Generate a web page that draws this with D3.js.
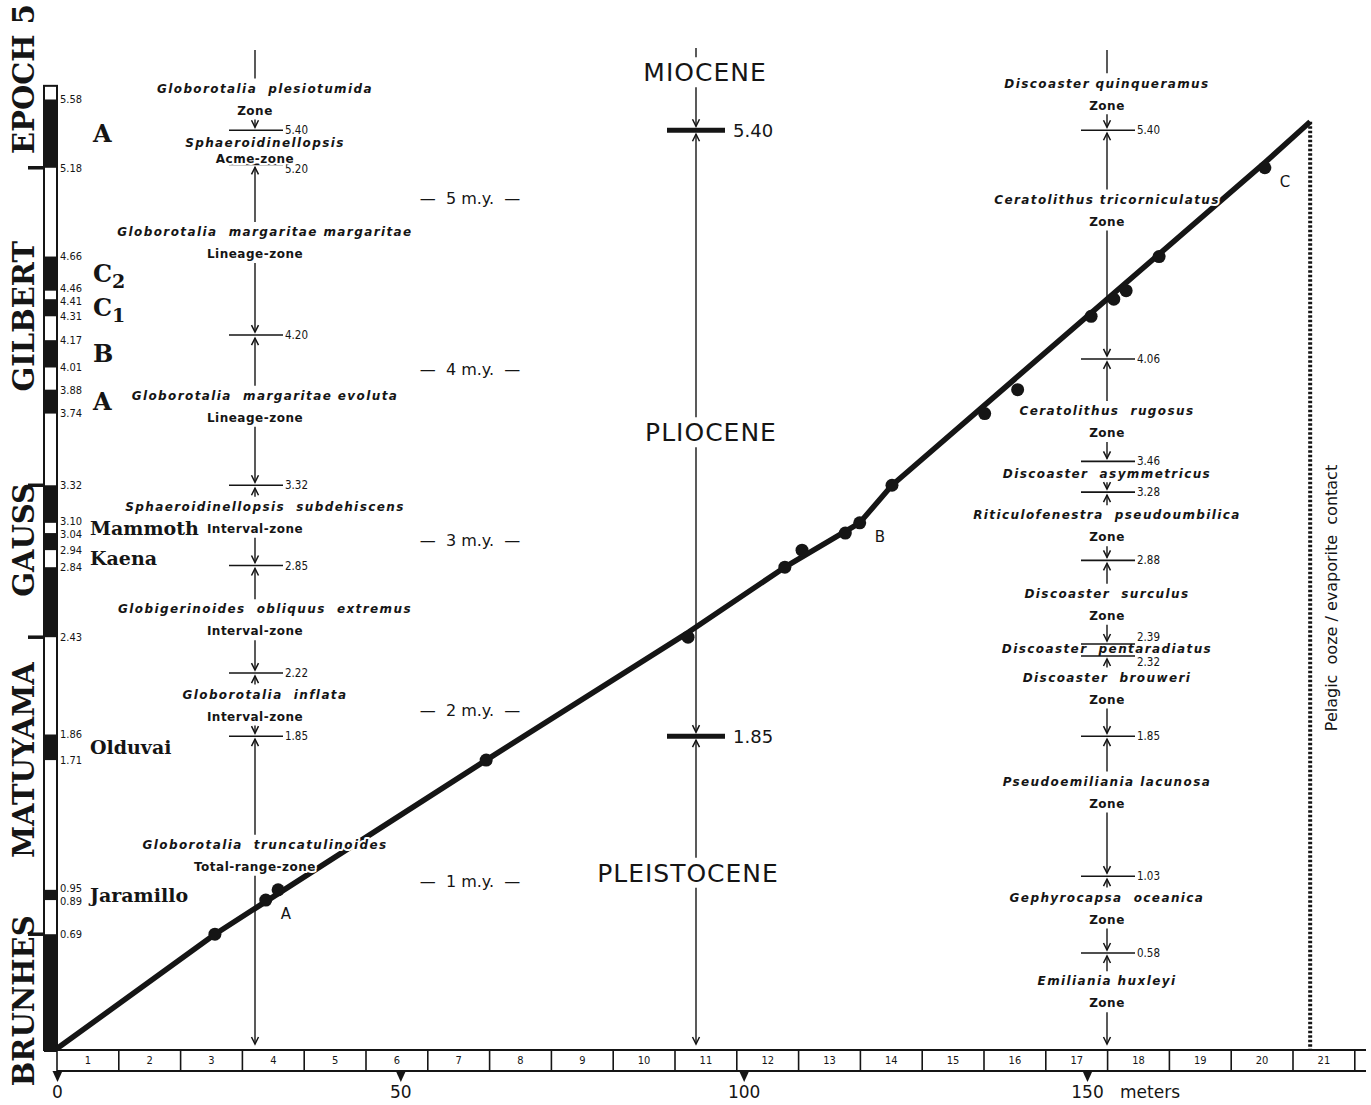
<!DOCTYPE html>
<html>
<head>
<meta charset="utf-8">
<script src="https://cdn.jsdelivr.net/npm/d3@7"></script>
<style>
  body { margin: 0; background: #fff; }
  text { fill: #151515; }
  .cond { font-family: "DejaVu Sans Condensed", "DejaVu Sans", sans-serif; font-stretch: condensed; }
  .sans { font-family: "DejaVu Sans", sans-serif; }
  .serif { font-family: "DejaVu Serif", serif; font-weight: bold; }
  .species { font-family: "DejaVu Sans", sans-serif; font-style: italic; font-weight: bold; font-size: 12px; letter-spacing: 1.4px; white-space: pre; }
  .ztype { font-family: "DejaVu Sans", sans-serif; font-weight: bold; font-size: 12px; letter-spacing: 0.5px; }
  .halo { stroke: #fff; stroke-width: 4px; paint-order: stroke; stroke-linejoin: round; }
</style>
</head>
<body>
<div id="chart"></div>
<script>
// magnetic polarity scale (m.y.), oldest first; intervals alternate normal / reversed
var chronAges = [5.58, 5.18, 4.66, 4.46, 4.41, 4.31, 4.17, 4.01, 3.88, 3.74, 3.32, 3.10, 3.04, 2.94, 2.84, 2.43, 1.86, 1.71, 0.95, 0.89, 0.69, 0];

var epochNames = ["EPOCH 5", "GILBERT", "GAUSS", "MATUYAMA", "BRUNHES"];
var epochBounds = [5.18, 3.32, 2.43, 0.69];
var epochLabelAge = [5.70, 4.31, 3.0, 1.71, 0.30];

var eventNames = ["A", "C2", "C1", "B", "A", "Mammoth", "Kaena", "Olduvai", "Jaramillo"];
var eventTop = [5.58, 4.66, 4.41, 4.17, 3.88, 3.10, 2.94, 1.86, 0.95];
var eventBase = [5.18, 4.46, 4.31, 4.01, 3.74, 3.04, 2.84, 1.71, 0.89];

// planktonic foraminifera zones
var foramBounds = [5.40, 5.20, 4.20, 3.32, 2.85, 2.22, 1.85];
var foramSpecies = ["Globorotalia  plesiotumida", "Sphaeroidinellopsis", "Globorotalia  margaritae margaritae",
  "Globorotalia  margaritae evoluta", "Sphaeroidinellopsis  subdehiscens", "Globigerinoides  obliquus  extremus",
  "Globorotalia  inflata", "Globorotalia  truncatulinoides"];
var foramType = ["Zone", "Acme-zone", "Lineage-zone", "Lineage-zone", "Interval-zone", "Interval-zone", "Interval-zone", "Total-range-zone"];
var foramLabelAge = [5.58, 5.28, 4.74, 3.78, 3.13, 2.53, 2.03, 1.15];

// calcareous nannofossil zones
var nannoBounds = [5.40, 4.06, 3.46, 3.28, 2.88, 2.39, 2.32, 1.85, 1.03, 0.58];
var nannoSpecies = ["Discoaster quinqueramus", "Ceratolithus tricorniculatus", "Ceratolithus  rugosus",
  "Discoaster  asymmetricus", "Riticulofenestra  pseudoumbilica", "Discoaster  surculus", "Discoaster  pentaradiatus",
  "Discoaster  brouweri", "Pseudoemiliania lacunosa", "Gephyrocapsa  oceanica", "Emiliania huxleyi"];
var nannoType = ["Zone", "Zone", "Zone", "", "Zone", "Zone", "", "Zone", "Zone", "Zone", "Zone"];
var nannoLabelAge = [5.61, 4.93, 3.69, 3.39, 3.08, 2.62, 2.36, 2.13, 1.52, 0.84, 0.35];

// series
var seriesNames = ["MIOCENE", "PLIOCENE", "PLEISTOCENE"];
var seriesBounds = [5.40, 1.85];
var seriesLabelAge = [5.74, 3.63, 1.05];

var ageTicks = [1, 2, 3, 4, 5];
var depthTicks = [0, 50, 100, 150];
var coreNumbers = d3.range(1, 22);
var coreLength = 9;

// sedimentation curve (depth in m, age in m.y.)
var curveDepth = [0, 23.0, 62.5, 92.0, 106.0, 116.9, 121.6, 175.9, 182.5];
var curveAge = [0.02, 0.69, 1.71, 2.46, 2.84, 3.10, 3.32, 5.21, 5.45];
// reversals identified in the hole
var pointDepth = [23.0, 30.4, 32.2, 62.5, 91.9, 106.0, 108.5, 114.8, 116.9, 121.6, 135.1, 139.9, 150.6, 153.9, 155.7, 160.5, 175.9];
var pointAge = [0.69, 0.89, 0.95, 1.71, 2.43, 2.84, 2.94, 3.04, 3.10, 3.32, 3.74, 3.88, 4.31, 4.41, 4.46, 4.66, 5.18];
var pointLabelIndex = [1, 8, 16];
var pointLabelText = ["A", "B", "C"];

var contactDepth = 182.5;
var contactAge = 5.45;

var svgWidth = 1371;
var svgHeight = 1105;
var ink = "#151515";

var svg = d3.select("#chart")
  .append("svg")
  .attr("width", svgWidth)
  .attr("height", svgHeight);

var x = d3.scaleLinear().domain([0, 150]).range([57, 1087]);
var y = d3.scaleLinear().domain([0, 5]).range([1052, 198.5]);

var stripTop = 1050, stripBot = 1071;

// small helper for the zone arrows
function vArrow(g, cx, y1, y2, head) {
  g.append("line")
    .attr("x1", cx).attr("x2", cx).attr("y1", y1).attr("y2", y2)
    .attr("stroke", ink).attr("stroke-width", 1.4);
  if (head) {
    var s = y2 > y1 ? -1 : 1;
    g.append("path")
      .attr("d", `M${cx - 3.5},${y2 + s * 7}L${cx},${y2}L${cx + 3.5},${y2 + s * 7}`)
      .attr("fill", "none").attr("stroke", ink).attr("stroke-width", 1.5);
  }
}

// ---- polarity column ----
var pol = svg.append("g");
var colX = 44, colW = 13;
pol.append("rect")
  .attr("x", colX).attr("y", y(5.66)).attr("width", colW).attr("height", stripTop - y(5.66))
  .attr("fill", "#fff").attr("stroke", ink).attr("stroke-width", 2);

pol.selectAll(".chron")
  .data(d3.range(0, chronAges.length - 1, 2))
  .enter()
  .append("rect")
  .attr("x", colX).attr("width", colW)
  .attr("y", i => y(chronAges[i]))
  .attr("height", i => y(chronAges[i + 1]) - y(chronAges[i]))
  .attr("fill", ink);

// push crowded age labels apart a little
var labelY = chronAges.slice(0, -1).map(d => y(d));
for (var pass = 0; pass < 4; pass++) {
  for (var k = 0; k < labelY.length - 1; k++) {
    var gap = labelY[k + 1] - labelY[k];
    if (gap < 13) {
      labelY[k] -= (13 - gap) / 2;
      labelY[k + 1] += (13 - gap) / 2;
    }
  }
}
pol.selectAll(".chronLabel")
  .data(chronAges.slice(0, -1))
  .enter()
  .append("text")
  .attr("class", "cond")
  .attr("x", 60)
  .attr("y", (d, i) => labelY[i])
  .attr("dy", "0.35em")
  .style("font-size", "11px")
  .text(d => d.toFixed(2));

pol.selectAll(".epochTick")
  .data(epochBounds)
  .enter()
  .append("line")
  .attr("x1", 28).attr("x2", colX)
  .attr("y1", d => y(d)).attr("y2", d => y(d))
  .attr("stroke", ink).attr("stroke-width", 3.5);

pol.selectAll(".epochName")
  .data(epochNames)
  .enter()
  .append("text")
  .attr("class", "serif")
  .attr("transform", (d, i) => `translate(24, ${y(epochLabelAge[i])}) rotate(-90)`)
  .attr("text-anchor", "middle")
  .attr("dy", "0.35em")
  .style("font-size", "29px")
  .text(d => d);

eventNames.forEach(function(name, i) {
  var t = pol.append("text")
    .attr("class", "serif")
    .attr("x", name.length > 2 ? 90 : 93)
    .attr("y", y((eventTop[i] + eventBase[i]) / 2))
    .attr("dy", "0.35em");
  if (name.length === 1) {
    t.style("font-size", "24px").text(name);
  } else if (name.length === 2) {
    t.style("font-size", "24px");
    t.append("tspan").text(name[0]);
    t.append("tspan").attr("dy", 6).style("font-size", "19px").text(name[1]);
  } else {
    t.style("font-size", "19px").text(name);
  }
});

// ---- time marks ----
svg.selectAll(".myLabel")
  .data(ageTicks)
  .enter()
  .append("text")
  .attr("class", "sans")
  .attr("x", 470)
  .attr("y", d => y(d))
  .attr("dy", "0.35em")
  .attr("text-anchor", "middle")
  .style("font-size", "16px")
  .style("white-space", "pre")
  .text(d => `—  ${d} m.y.  —`);

// ---- core strip and depth axis ----
var strip = svg.append("g");
[stripTop, stripBot].forEach(function(v) {
  strip.append("line")
    .attr("x1", x(0)).attr("x2", 1366)
    .attr("y1", v).attr("y2", v)
    .attr("stroke", ink).attr("stroke-width", 2.2);
});
strip.selectAll(".coreEdge")
  .data(d3.range(0, coreNumbers.length + 1))
  .enter()
  .append("line")
  .attr("x1", i => x(i * coreLength)).attr("x2", i => x(i * coreLength))
  .attr("y1", stripTop).attr("y2", stripBot)
  .attr("stroke", ink).attr("stroke-width", 1.6);
strip.selectAll(".coreNum")
  .data(coreNumbers)
  .enter()
  .append("text")
  .attr("class", "cond")
  .attr("x", n => x((n - 0.5) * coreLength))
  .attr("y", (stripTop + stripBot) / 2)
  .attr("dy", "0.35em")
  .attr("text-anchor", "middle")
  .style("font-size", "11px")
  .text(n => n);

var depthAxis = d3.axisBottom(x).tickValues(depthTicks).tickSize(0).tickPadding(15);
var axisG = svg.append("g")
  .attr("transform", `translate(0, ${stripBot})`)
  .call(depthAxis);
axisG.select(".domain").remove();
axisG.selectAll("text")
  .attr("class", "sans")
  .style("font-size", "17px")
  .attr("fill", ink);
axisG.selectAll(".tick").append("path")
  .attr("d", "M-5,0L5,0L0,11Z")
  .attr("fill", ink);
svg.append("text")
  .attr("class", "sans")
  .attr("x", x(150) + 33).attr("y", stripBot + 15)
  .attr("dy", "0.71em")
  .style("font-size", "17px")
  .text("meters");

// ---- sedimentation curve ----
var curve = d3.line()
  .x(i => x(curveDepth[i]))
  .y(i => y(curveAge[i]));
svg.append("path")
  .attr("d", curve(d3.range(curveDepth.length)))
  .attr("fill", "none")
  .attr("stroke", ink)
  .attr("stroke-width", 5.5)
  .attr("stroke-linejoin", "round");

svg.selectAll(".rev")
  .data(pointDepth)
  .enter()
  .append("circle")
  .attr("cx", d => x(d))
  .attr("cy", (d, i) => y(pointAge[i]))
  .attr("r", 6.5)
  .attr("fill", ink);

svg.selectAll(".revLabel")
  .data(pointLabelIndex)
  .enter()
  .append("text")
  .attr("class", "sans")
  .attr("x", d => x(pointDepth[d]) + 15)
  .attr("y", d => y(pointAge[d]) + 14)
  .attr("dy", "0.35em")
  .style("font-size", "15px")
  .text((d, i) => pointLabelText[i]);

// ---- pelagic ooze / evaporite contact ----
svg.append("line")
  .attr("x1", x(contactDepth)).attr("x2", x(contactDepth))
  .attr("y1", y(contactAge)).attr("y2", stripTop)
  .attr("stroke", ink)
  .attr("stroke-width", 4)
  .attr("stroke-dasharray", "2.5,2");

svg.append("text")
  .attr("class", "sans")
  .attr("transform", `translate(1331, 598) rotate(-90)`)
  .attr("text-anchor", "middle")
  .attr("dy", "0.35em")
  .style("font-size", "16px")
  .style("white-space", "pre")
  .text("Pelagic  ooze / evaporite  contact");

// ---- zone columns (drawn over the curve) ----
function zoneColumn(cx, dx, bounds, species, types, labelAge) {
  var g = svg.append("g");
  bounds.forEach(function(b, i) {
    g.append("line")
      .attr("x1", cx - 26).attr("x2", cx + 28)
      .attr("y1", y(b)).attr("y2", y(b))
      .attr("stroke", ink).attr("stroke-width", 1.6);
    var shift = 0;
    if (i > 0 && y(b) - y(bounds[i - 1]) < 16) shift = 6;
    if (i < bounds.length - 1 && y(bounds[i + 1]) - y(b) < 16) shift = -7;
    if (i > 0 && y(b) - y(bounds[i - 1]) < 40 && types[i] !== "") shift = 5;
    g.append("text")
      .attr("class", "cond")
      .attr("x", cx + 30)
      .attr("y", y(b) + shift)
      .attr("dy", "0.35em")
      .style("font-size", "11.5px")
      .text(b.toFixed(2));
  });
  species.forEach(function(s, i) {
    var yc = y(labelAge[i]);
    var two = types[i] !== "";
    var room = (i > 0 && i < bounds.length) ? y(bounds[i]) - y(bounds[i - 1]) : 999;
    var half = room < 50 ? 8 : 11;
    var y1 = two ? yc - half : yc;
    var y2 = two ? yc + half : yc;
    g.append("text")
      .attr("class", two ? "species halo" : "species")
      .attr("x", cx + dx).attr("y", y1)
      .attr("dy", "0.35em")
      .attr("text-anchor", "middle")
      .text(s);
    if (two) {
      g.append("text")
        .attr("class", "ztype halo")
        .attr("x", cx).attr("y", y2)
        .attr("dy", "0.35em")
        .attr("text-anchor", "middle")
        .text(types[i]);
    }
    var top = y1 - 10, bot = y2 + 9;
    if (i === 0) {
      vArrow(g, cx, 50, top, false);
    } else {
      var up = y(bounds[i - 1]) + 3;
      if (top - up > 5) vArrow(g, cx, top, up, true);
    }
    var low = i < bounds.length ? y(bounds[i]) - 3 : y(0) - 8;
    if (low - bot > 5) vArrow(g, cx, bot, low, true);
  });
}

zoneColumn(255, 10, foramBounds, foramSpecies, foramType, foramLabelAge);
zoneColumn(1107, 0, nannoBounds, nannoSpecies, nannoType, nannoLabelAge);

// ---- series column ----
var ser = svg.append("g");
var sx = 696;
var seriesDx = [9, 15, -8];
seriesBounds.forEach(function(b) {
  ser.append("line")
    .attr("x1", sx - 29).attr("x2", sx + 29)
    .attr("y1", y(b)).attr("y2", y(b))
    .attr("stroke", ink).attr("stroke-width", 5);
  ser.append("text")
    .attr("class", "sans")
    .attr("x", sx + 37).attr("y", y(b))
    .attr("dy", "0.35em")
    .style("font-size", "18px")
    .text(b.toFixed(2));
});
seriesNames.forEach(function(name, i) {
  var yc = y(seriesLabelAge[i]);
  ser.append("text")
    .attr("class", "sans")
    .attr("x", sx + seriesDx[i]).attr("y", yc)
    .attr("dy", "0.36em")
    .attr("text-anchor", "middle")
    .style("font-size", "25px")
    .style("letter-spacing", "1px")
    .text(name);
  var top = yc - 15, bot = yc + 15;
  if (i === 0) vArrow(ser, sx, 48, top, false);
  else vArrow(ser, sx, top, y(seriesBounds[i - 1]) + 4, true);
  var low = i < seriesBounds.length ? y(seriesBounds[i]) - 4 : y(0) - 8;
  vArrow(ser, sx, bot, low, true);
});
</script>
</body>
</html>
